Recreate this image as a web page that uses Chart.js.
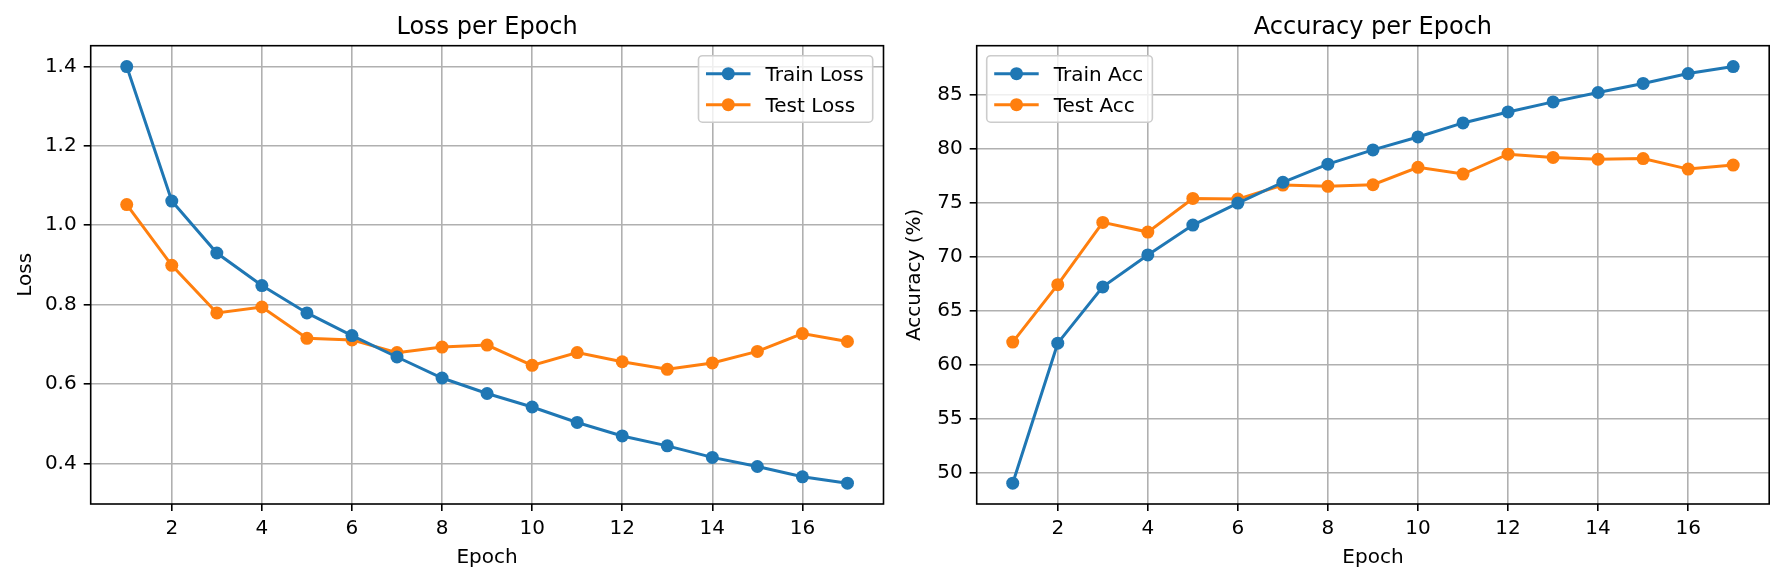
<!DOCTYPE html>
<html>
<head>
<meta charset="utf-8">
<script src="https://cdn.jsdelivr.net/npm/chart.js@4.4.1/dist/chart.umd.min.js"></script>
<style>
html, body { margin: 0; padding: 0; background: #fff; }
#wrap { position: relative; width: 1784px; height: 582px; }
#c1 { position: absolute; left: 0; top: 0; }
#c2 { position: absolute; left: 900px; top: 0; }
</style>
</head>
<body>
<div id="wrap">
  <canvas id="c1" width="900" height="582"></canvas>
  <canvas id="c2" width="884" height="582"></canvas>
</div>
<script>
const epochs = [1, 2, 3, 4, 5, 6, 7, 8, 9, 10, 11, 12, 13, 14, 15, 16, 17]
const trainLoss = [1.400, 1.061, 0.930, 0.848, 0.779, 0.722, 0.668, 0.615, 0.576, 0.542, 0.503, 0.469, 0.444, 0.415, 0.392, 0.366, 0.350]
const testLoss = [1.052, 0.899, 0.779, 0.794, 0.715, 0.711, 0.679, 0.693, 0.698, 0.647, 0.679, 0.656, 0.637, 0.653, 0.682, 0.727, 0.707]
const trainAcc = [49.0, 61.98, 67.2, 70.16, 72.93, 74.97, 76.9, 78.58, 79.9, 81.1, 82.4, 83.42, 84.35, 85.22, 86.06, 86.98, 87.63]
const testAcc = [62.08, 67.4, 73.18, 72.28, 75.4, 75.34, 76.64, 76.52, 76.67, 78.28, 77.66, 79.5, 79.2, 79.04, 79.1, 78.12, 78.49]

const epochTicks = [2, 4, 6, 8, 10, 12, 14, 16]
const lossTicks = [0.4, 0.6, 0.8, 1.0, 1.2, 1.4]
const accTicks = [50, 55, 60, 65, 70, 75, 80, 85]

const BLUE = '#1f77b4'
const ORANGE = '#ff7f0e'
const FAM = '"DejaVu Sans", sans-serif'
const font = {family: FAM, size: 20}

// matplotlib-like 5% margins around the data
function range(arrs) {
    const all = arrs.flat()
    const lo = Math.min(...all), hi = Math.max(...all)
    const m = (hi - lo) * 0.05
    return [lo - m, hi + m]
}

function series(label, ys, color) {
    return {
        label: label,
        data: epochs.map((e, i) => ({x: e, y: ys[i]})),
        borderColor: color,
        backgroundColor: color,
        borderWidth: 3,
        pointRadius: 6.5,
        pointBorderWidth: 0,
        pointBackgroundColor: color,
        tension: 0,
        clip: false
    }
}

// frame, legend box and title drawn like matplotlib
const mplBits = {
    id: 'mplBits',
    afterDatasetsDraw(chart, args, o) {
        const {ctx, chartArea: a} = chart
        ctx.save()
        ctx.strokeStyle = '#000'
        ctx.lineWidth = 1.6
        ctx.strokeRect(a.left, a.top, a.right - a.left, a.bottom - a.top)

        ctx.font = '20px ' + FAM
        const ds = chart.data.datasets
        const w = 67 + Math.max(...ds.map(d => ctx.measureText(d.label).width)) + 9
        const h = 66.5
        const x0 = o.side === 'right' ? a.right - 10.8 - w : a.left + 10
        const y0 = a.top + 10
        ctx.beginPath()
        ctx.roundRect(x0, y0, w, h, 4)
        ctx.fillStyle = 'rgba(255,255,255,0.8)'
        ctx.fill()
        ctx.strokeStyle = '#cccccc'
        ctx.lineWidth = 1.6
        ctx.stroke()
        ds.forEach((d, i) => {
            const y = y0 + 18 + i * 31
            ctx.strokeStyle = d.borderColor
            ctx.lineWidth = 3
            ctx.beginPath()
            ctx.moveTo(x0 + 7.5, y)
            ctx.lineTo(x0 + 52, y)
            ctx.stroke()
            ctx.fillStyle = d.borderColor
            ctx.beginPath()
            ctx.arc(x0 + 29.8, y, 6.5, 0, Math.PI * 2)
            ctx.fill()
            ctx.fillStyle = '#000'
            ctx.textAlign = 'left'
            ctx.textBaseline = 'alphabetic'
            ctx.fillText(d.label, x0 + 67, y + 7)
        })

        ctx.font = '24px ' + FAM
        ctx.textAlign = 'center'
        ctx.textBaseline = 'alphabetic'
        ctx.fillStyle = '#000'
        ctx.fillText(o.title, (a.left + a.right) / 2, a.top - 12.2)
        ctx.restore()
    }
}

function makeChart(el, cfg) {
    const [yMin, yMax] = range([cfg.a, cfg.b])
    return new Chart(el, {
        type: 'line',
        data: {
            datasets: [series(cfg.labels[0], cfg.a, BLUE), series(cfg.labels[1], cfg.b, ORANGE)]
        },
        options: {
            responsive: false,
            devicePixelRatio: 1,
            animation: false,
            events: [],
            layout: {padding: {top: 45.7, right: cfg.padRight, bottom: 0, left: 0}},
            plugins: {
                legend: {display: false},
                tooltip: {enabled: false},
                mplBits: {title: cfg.title, side: cfg.side}
            },
            scales: {
                x: {
                    type: 'linear',
                    min: 0.2,
                    max: 17.8,
                    afterBuildTicks: s => { s.ticks = epochTicks.map(v => ({value: v})) },
                    afterFit: s => { s.height = 78 },
                    grid: {color: '#b0b0b0', lineWidth: 1.6, tickColor: '#000', tickLength: 7, tickWidth: 1.6},
                    border: {display: false},
                    ticks: {color: '#000', font: font, padding: 6, maxRotation: 0, autoSkip: false, callback: v => String(v)},
                    title: {display: true, text: 'Epoch', color: '#000', font: font, padding: {top: 0, bottom: 12.4}}
                },
                y: {
                    type: 'linear',
                    min: yMin,
                    max: yMax,
                    afterBuildTicks: s => { s.ticks = cfg.yTicks.map(v => ({value: v})) },
                    afterFit: s => { s.width = cfg.yWidth },
                    grid: {color: '#b0b0b0', lineWidth: 1.6, tickColor: '#000', tickLength: 7, tickWidth: 1.6},
                    border: {display: false},
                    ticks: {color: '#000', font: font, padding: 7, autoSkip: false, callback: cfg.fmt},
                    title: {display: true, text: cfg.yTitle, color: '#000', font: font, padding: {top: cfg.yTitlePad, bottom: 0}}
                }
            }
        },
        plugins: [mplBits]
    })
}

makeChart(document.getElementById('c1'), {
    a: trainLoss, b: testLoss,
    labels: ['Train Loss', 'Test Loss'],
    title: 'Loss per Epoch', side: 'right',
    yTicks: lossTicks, yTitle: 'Loss', yTitlePad: 13.3,
    yWidth: 90.7, padRight: 16.5,
    fmt: v => v.toFixed(1)
})

makeChart(document.getElementById('c2'), {
    a: trainAcc, b: testAcc,
    labels: ['Train Acc', 'Test Acc'],
    title: 'Accuracy per Epoch', side: 'left',
    yTicks: accTicks, yTitle: 'Accuracy (%)', yTitlePad: 3,
    yWidth: 76.7, padRight: 14.8,
    fmt: v => String(v)
})
</script>
</body>
</html>
